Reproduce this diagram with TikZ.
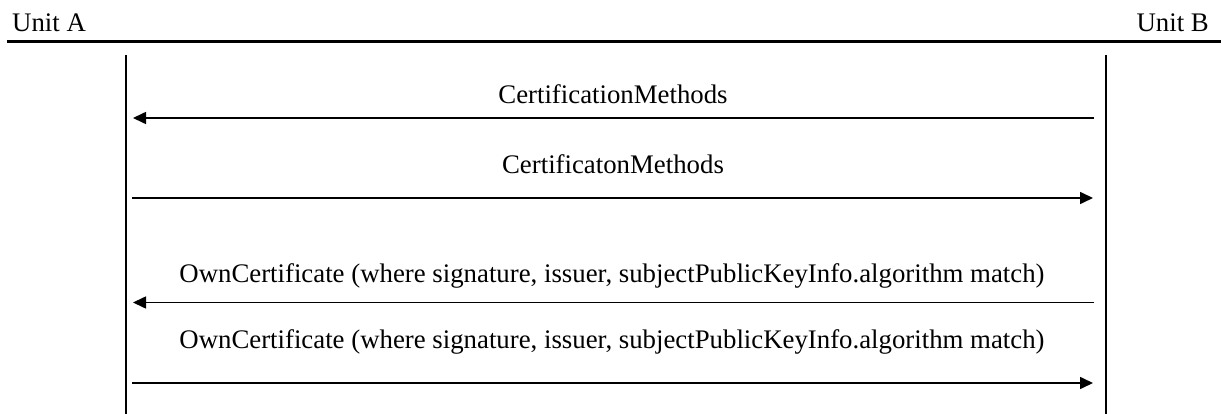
\documentclass[tikz,border=0pt]{standalone}
\usepackage{fontspec}
\setmainfont{Liberation Serif}
\usetikzlibrary{arrows.meta}
\tikzset{
  lbl/.style={inner sep=0pt, anchor=base, font=\fontsize{26.8}{32}\selectfont},
  unitlbl/.style={inner sep=0pt, font=\fontsize{26.8}{32}\selectfont},
  lifeline/.style={line width=1.6pt},
  header/.style={line width=2.2pt},
  msg/.style={line width=1.6pt, -{Triangle[length=13pt,width=12pt]}}
}
\begin{document}
\begin{tikzpicture}[x=1pt, y=-1pt]
  \useasboundingbox (0,0) rectangle (1221,414);

  % unit names and the header rule
  \node[unitlbl, anchor=base west] (ua) at (12,32) {Unit A};
  \node[unitlbl, anchor=base east] (ub) at (1209,32) {Unit B};
  \coordinate (hl) at (7,41.5);
  \coordinate (hr) at (1221,41.5);
  \draw[header] (hl) -- (hr);

  % lifelines
  \coordinate (atop) at (126,55);
  \coordinate (abot) at (126,414);
  \coordinate (btop) at (1106,55);
  \coordinate (bbot) at (1106,414);
  \draw[lifeline] (atop) -- (abot);
  \draw[lifeline] (btop) -- (bbot);

  % message end points
  \coordinate (m1s) at (1094,118);   \coordinate (m1e) at (133,118);
  \coordinate (m2s) at (132,198);    \coordinate (m2e) at (1093,198);
  \coordinate (m3s) at (1094,302.5); \coordinate (m3e) at (133,302.5);
  \coordinate (m4s) at (132,383);    \coordinate (m4e) at (1093,383);

  % messages
  \draw[msg] (m1s) -- (m1e);
  \node[lbl] (t1) at (613,104) {CertificationMethods};
  \draw[msg] (m2s) -- (m2e);
  \node[lbl] (t2) at (613,173.5) {CertificatonMethods};
  \draw[msg] (m3s) -- (m3e);
  \node[lbl] (t3) at (612,282.5) {OwnCertificate (where signature, issuer, subjectPublicKeyInfo.algorithm match)};
  \draw[msg] (m4s) -- (m4e);
  \node[lbl] (t4) at (612,348.5) {OwnCertificate (where signature, issuer, subjectPublicKeyInfo.algorithm match)};
\end{tikzpicture}
\end{document}
